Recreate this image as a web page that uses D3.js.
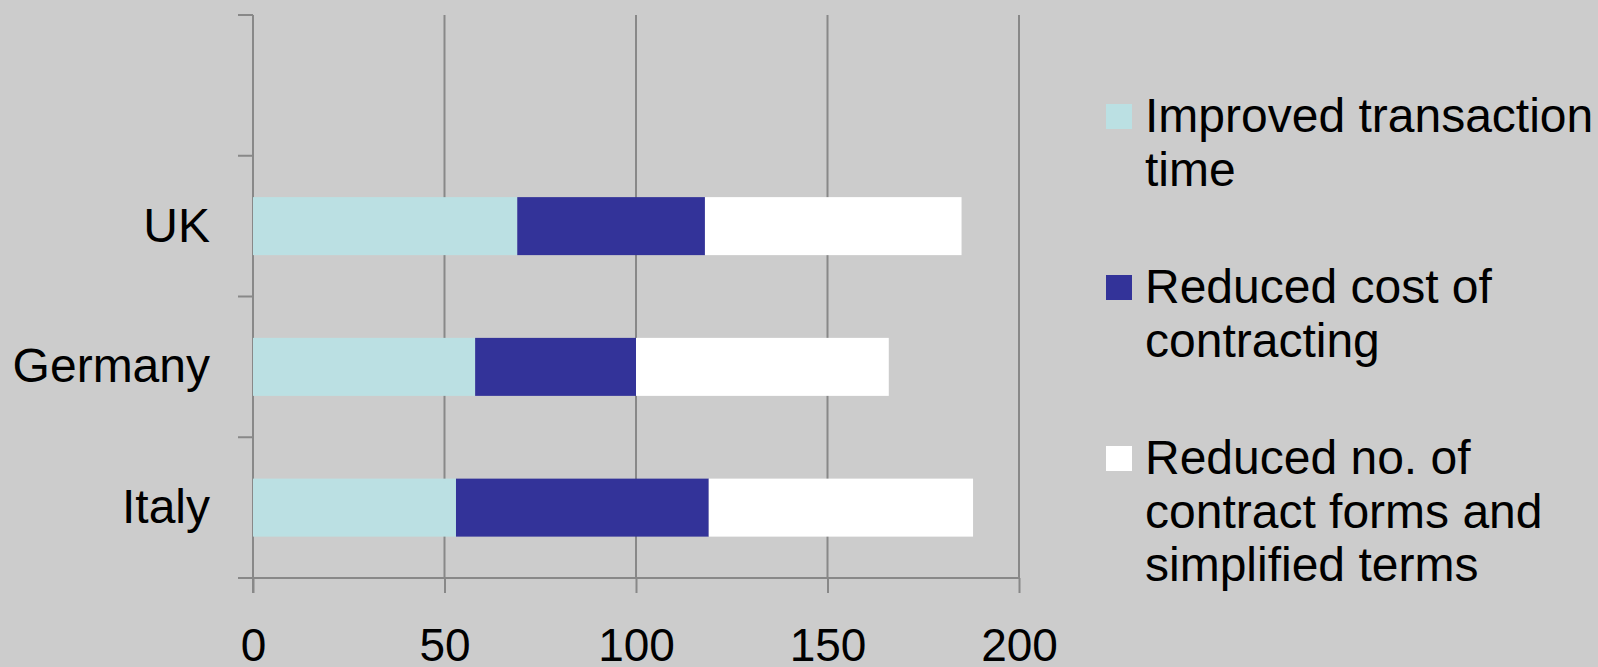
<!DOCTYPE html>
<html>
<head>
<meta charset="utf-8">
<script src="https://cdn.jsdelivr.net/npm/d3@7"></script>
<style>
  body { margin: 0; background: #cccccc; }
  svg { display: block; }
  text { font-family: "Liberation Sans", Arial, sans-serif; fill: #000; }
</style>
</head>
<body>
<div class="barChart"></div>
<script>
var width = 1598;
var height = 667;

var countries = ['UK', 'Germany', 'Italy'];
var seriesNames = ['Improved transaction time', 'Reduced cost of contracting',
    'Reduced no. of contract forms and simplified terms'];
var transactionTime = [69, 58, 53];
var costOfContracting = [49, 42, 66];
var contractForms = [67, 66, 69];
var xTicks = [0, 50, 100, 150, 200];

var legendLines = [
    ['Improved transaction', 'time'],
    ['Reduced cost of', 'contracting'],
    ['Reduced no. of', 'contract forms and', 'simplified terms']
];

var colorKey = {
    'Improved transaction time': '#bbe0e3',
    'Reduced cost of contracting': '#333399',
    'Reduced no. of contract forms and simplified terms': '#ffffff'
};

var plotLeft = 253, plotRight = 1019, plotTop = 15, plotBottom = 578;
var axisColor = '#888888';

// one row per country, keyed by series name
var rows = countries.map(function(c, i) {
    var r = { country: c };
    r[seriesNames[0]] = transactionTime[i];
    r[seriesNames[1]] = costOfContracting[i];
    r[seriesNames[2]] = contractForms[i];
    return r;
});

var stacked = d3.stack().keys(seriesNames)(rows);

var x = d3.scaleLinear().domain([0, 200]).range([plotLeft, plotRight]);
// an empty slot on top, like the original chart
var y = d3.scaleBand()
    .domain([' '].concat(countries))
    .range([plotTop, plotBottom])
    .paddingInner(0.588)
    .paddingOuter(0.294);

var svg = d3.select('.barChart')
    .append('svg')
    .attr('width', width)
    .attr('height', height);

svg.append('rect')
    .attr('width', width)
    .attr('height', height)
    .attr('fill', '#cccccc');

// vertical gridlines
svg.append('g')
    .selectAll('line')
    .data(xTicks.slice(1))
    .enter().append('line')
    .attr('x1', function(d) { return x(d); })
    .attr('x2', function(d) { return x(d); })
    .attr('y1', plotTop)
    .attr('y2', plotBottom)
    .attr('stroke', axisColor)
    .attr('stroke-width', 2);

// x axis
var xAxis = d3.axisBottom(x).tickValues(xTicks).tickSize(15).tickPadding(35);
var gx = svg.append('g')
    .attr('transform', 'translate(0,' + plotBottom + ')')
    .call(xAxis);
gx.select('.domain').remove();
gx.selectAll('.tick line').attr('stroke', axisColor).attr('stroke-width', 2);
gx.selectAll('text').style('font-size', '46px');
gx.append('line')
    .attr('x1', plotLeft - 15).attr('x2', plotRight)
    .attr('stroke', axisColor).attr('stroke-width', 2);

// y axis: labels at band centres, ticks at band edges
var yAxis = d3.axisLeft(y).tickSize(0).tickPadding(43);
var gy = svg.append('g')
    .attr('transform', 'translate(' + plotLeft + ',0)')
    .call(yAxis);
gy.select('.domain').remove();
gy.selectAll('text').style('font-size', '48px');

var edges = y.domain().map(function(d) { return y(d) - y.step() * y.paddingInner() / 2; });
edges.push(plotBottom);
gy.selectAll('.edge')
    .data(edges)
    .enter().append('line')
    .attr('class', 'edge')
    .attr('x1', -15).attr('x2', 0)
    .attr('y1', function(d) { return d; })
    .attr('y2', function(d) { return d; })
    .attr('stroke', axisColor).attr('stroke-width', 2);
gy.append('line')
    .attr('y1', plotTop).attr('y2', plotBottom + 15)
    .attr('stroke', axisColor).attr('stroke-width', 2);

// stacked bars
svg.append('g')
    .selectAll('g')
    .data(stacked)
    .enter().append('g')
    .attr('fill', function(d) { return colorKey[d.key]; })
    .selectAll('rect')
    .data(function(d) { return d; })
    .enter().append('rect')
    .attr('x', function(d) { return x(d[0]); })
    .attr('y', function(d) { return y(d.data.country); })
    .attr('width', function(d) { return x(d[1]) - x(d[0]); })
    .attr('height', y.bandwidth());

// legend
var legend = svg.append('g')
    .selectAll('g')
    .data(seriesNames)
    .enter().append('g')
    .attr('transform', function(d, i) { return 'translate(1106,' + (132 + i * 171) + ')'; });

legend.append('rect')
    .attr('x', 0)
    .attr('y', -28)
    .attr('width', 26)
    .attr('height', 25)
    .attr('fill', function(d) { return colorKey[d]; });

legend.append('text')
    .style('font-size', '48px')
    .selectAll('tspan')
    .data(function(d, i) { return legendLines[i]; })
    .enter().append('tspan')
    .attr('x', 39)
    .attr('y', function(d, j) { return j * 53.5; })
    .text(function(d) { return d; });
</script>
</body>
</html>
